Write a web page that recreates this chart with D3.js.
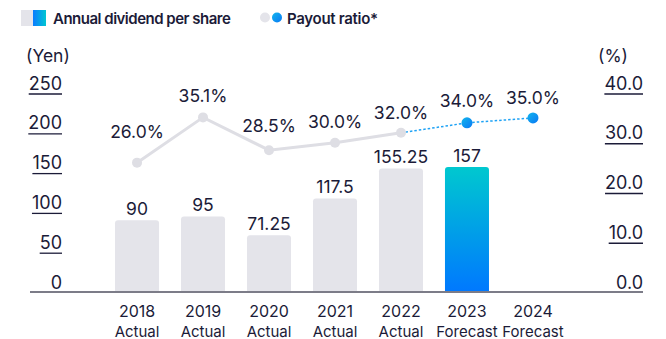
<!DOCTYPE html>
<html>
<head>
<meta charset="utf-8">
<script src="https://cdn.jsdelivr.net/npm/d3@7"></script>
<style>
  html, body { margin: 0; padding: 0; background: #fff; }
  svg { display: block; font-family: Inter, "Noto Sans", sans-serif; }
</style>
</head>
<body>
<svg id="chart" width="666" height="339"></svg>
<script>
// Fiscal years and their status
const years = ["2018", "2019", "2020", "2021", "2022", "2023", "2024"];
const status = ["Actual", "Actual", "Actual", "Actual", "Actual", "Forecast", "Forecast"];
// Annual dividend per share (yen); 2024 has no bar
const dividends = [90, 95, 71.25, 117.5, 155.25, 157, null];
const dividendLabels = ["90", "95", "71.25", "117.5", "155.25", "157", ""];
// Payout ratio (%)
const payout = [26.0, 35.1, 28.5, 30.0, 32.0, 34.0, 35.0];
// Axis ticks
const yenTicks = [0, 50, 100, 150, 200, 250];
const pctTicks = [0, 10, 20, 30, 40];

const ink = "#1b1b38";
const barGray = "#e4e4ea";
const lineGray = "#dedee4";
const forecastBlue = "#1ea2f5";

const svg = d3.select("#chart");
const defs = svg.append("defs");

const barGrad = defs.append("linearGradient").attr("id", "barGrad")
  .attr("x1", 0).attr("y1", 0).attr("x2", 0).attr("y2", 1);
barGrad.append("stop").attr("offset", "0%").attr("stop-color", "#00c8cf");
barGrad.append("stop").attr("offset", "100%").attr("stop-color", "#0078ff");

const legendGrad = defs.append("linearGradient").attr("id", "legendGrad")
  .attr("x1", 0).attr("y1", 0).attr("x2", 1).attr("y2", 0);
legendGrad.append("stop").attr("offset", "0%").attr("stop-color", "#0a7cff");
legendGrad.append("stop").attr("offset", "100%").attr("stop-color", "#00c6d2");

const dotGrad = defs.append("linearGradient").attr("id", "dotGrad")
  .attr("x1", 0).attr("y1", 0).attr("x2", 1).attr("y2", 1);
dotGrad.append("stop").attr("offset", "0%").attr("stop-color", "#12b6ec");
dotGrad.append("stop").attr("offset", "100%").attr("stop-color", "#0a78f5");

// Scales
const x = d3.scaleBand().domain(years).range([104, 566]).paddingInner(0.333).paddingOuter(0.167);
const yYen = d3.scaleLinear().domain([0, 250]).range([292, 93]);
const yPct = d3.scaleLinear().domain([0, 40]).range([292, 93]);
const cx = d => x(d) + x.bandwidth() / 2;

// Legend
const legend = svg.append("g");
legend.append("rect").attr("x", 21).attr("y", 10).attr("width", 12).attr("height", 16).attr("fill", barGray);
legend.append("rect").attr("x", 33).attr("y", 10).attr("width", 13).attr("height", 16).attr("fill", "url(#legendGrad)");
legend.append("text").attr("x", 53).attr("y", 23.5).attr("font-size", 15).attr("font-weight", 600)
  .attr("letter-spacing", -0.5).attr("fill", ink).text("Annual dividend per share");
legend.append("circle").attr("cx", 265).attr("cy", 17.5).attr("r", 5).attr("fill", barGray);
legend.append("circle").attr("cx", 277).attr("cy", 17.5).attr("r", 5).attr("fill", "url(#dotGrad)");
legend.append("text").attr("x", 287).attr("y", 23.5).attr("font-size", 15).attr("font-weight", 600)
  .attr("letter-spacing", -0.3).attr("fill", ink).text("Payout ratio*");

// Axis titles
svg.append("text").attr("x", 26).attr("y", 62).attr("font-size", 17.5).attr("fill", ink).text("(Yen)");
svg.append("text").attr("x", 598).attr("y", 62).attr("font-size", 17.5).attr("fill", ink).text("(%)");

// Bars
const bars = years.map((yr, i) => ({ yr, v: dividends[i], label: dividendLabels[i], forecast: status[i] === "Forecast" }))
  .filter(d => d.v !== null);
const r = 3;
svg.append("g").selectAll("path").data(bars).join("path")
  .attr("d", d => {
    const x0 = x(d.yr), x1 = x0 + x.bandwidth(), y0 = yYen(d.v), yb = yYen(0);
    return `M${x0},${yb}V${y0 + r}Q${x0},${y0} ${x0 + r},${y0}H${x1 - r}Q${x1},${y0} ${x1},${y0 + r}V${yb}Z`;
  })
  .attr("fill", d => d.forecast ? "url(#barGrad)" : barGray);

svg.append("g").selectAll("text").data(bars).join("text")
  .attr("x", d => cx(d.yr)).attr("y", d => yYen(d.v) - 5)
  .attr("text-anchor", "middle").attr("font-size", 17.5).attr("fill", ink)
  .text(d => d.label);

// Baseline
svg.append("line").attr("x1", 30).attr("x2", 643).attr("y1", 292).attr("y2", 292)
  .attr("stroke", "#7c7c88").attr("stroke-width", 2);

// Underlined tick labels, right-aligned at the axis position
function styleTicks(g) {
  g.select(".domain").remove();
  g.selectAll(".tick text").attr("font-size", 18).attr("fill", ink)
    .attr("font-family", "Inter, sans-serif").attr("dy", -4).attr("x", 0).attr("text-anchor", "end");
  g.selectAll(".tick").each(function(d) {
    if (d === 0) return;
    const t = d3.select(this);
    const w = t.select("text").node().getComputedTextLength();
    t.append("line").attr("x1", -w).attr("x2", 0).attr("y1", 0.5).attr("y2", 0.5)
      .attr("stroke", ink).attr("stroke-width", 1.3);
  });
}

const leftAxis = d3.axisLeft(yYen).tickValues(yenTicks).tickSize(0).tickPadding(0);
svg.append("g").attr("transform", "translate(62,0)").call(leftAxis).call(styleTicks);

const rightAxis = d3.axisRight(yPct).tickValues(pctTicks).tickSize(0).tickPadding(0).tickFormat(d3.format(".1f"));
svg.append("g").attr("transform", "translate(643,0)").call(rightAxis).call(styleTicks);

// Category axis
const xAxis = d3.axisBottom(x).tickSize(0).tickPadding(0);
const gx = svg.append("g").attr("transform", "translate(0,292)").call(xAxis);
gx.select(".domain").remove();
gx.selectAll(".tick text").remove();
gx.selectAll(".tick").append("text")
  .attr("text-anchor", "middle").attr("fill", ink)
  .attr("font-family", "Inter, sans-serif")
  .each(function(d, i) {
    const t = d3.select(this);
    t.append("tspan").attr("x", 0).attr("y", 25).attr("font-size", 16).text(d);
    t.append("tspan").attr("x", 0).attr("y", 44.5).attr("font-size", 15).text(status[i]);
  });

// Payout ratio line
const pts = years.map((yr, i) => ({ yr, v: payout[i], forecast: status[i] === "Forecast" }));
const line = d3.line().x(d => cx(d.yr)).y(d => yPct(d.v));
const actualPts = pts.filter(d => !d.forecast);
const lastActual = actualPts[actualPts.length - 1];
const forecastPts = [lastActual].concat(pts.filter(d => d.forecast));

svg.append("path").datum(actualPts).attr("d", line)
  .attr("fill", "none").attr("stroke", lineGray).attr("stroke-width", 3);
svg.append("path").datum(forecastPts).attr("d", line)
  .attr("fill", "none").attr("stroke", forecastBlue).attr("stroke-width", 1.5)
  .attr("stroke-dasharray", "2.5,2");

svg.append("g").selectAll("circle").data(pts).join("circle")
  .attr("cx", d => cx(d.yr)).attr("cy", d => yPct(d.v))
  .attr("r", d => d.forecast ? 5.5 : 5)
  .attr("fill", d => d.forecast ? "url(#dotGrad)" : lineGray);

const labelLift = [19, 9, 12, 9, 8, 10, 8];
svg.append("g").selectAll("text").data(pts).join("text")
  .attr("x", d => cx(d.yr)).attr("y", (d, i) => yPct(d.v) - labelLift[i] - 6)
  .attr("text-anchor", "middle").attr("font-size", 17.5).attr("fill", ink)
  .text(d => d3.format(".1f")(d.v) + "%");
</script>
</body>
</html>
